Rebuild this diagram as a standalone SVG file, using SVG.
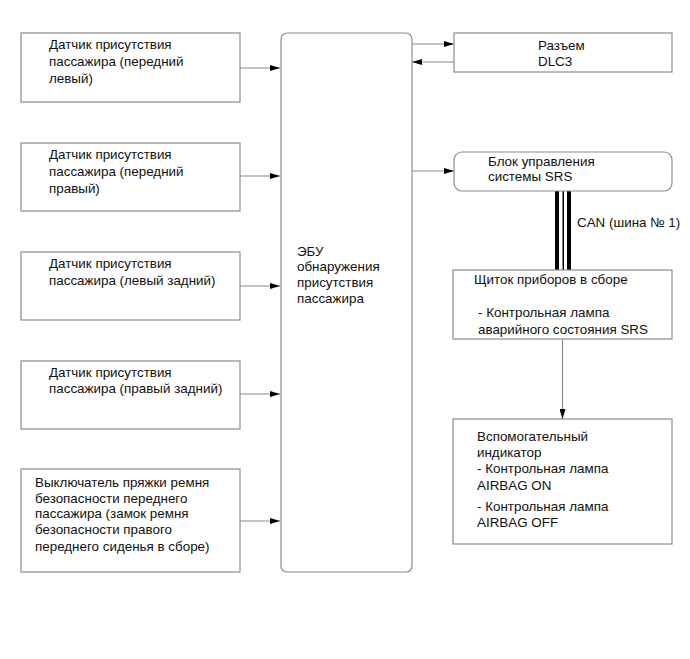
<svg xmlns="http://www.w3.org/2000/svg" width="690" height="659" viewBox="0 0 690 659">
<style>
.box{fill:#fff;stroke:#8c8c8c;stroke-width:1.2}
.ln{stroke:#8c8c8c;stroke-width:1.2;fill:none}
text{font-family:"Liberation Sans",Arial,sans-serif;font-size:13.4px;fill:#111}
</style>
<defs>
<marker id="ah" viewBox="0 0 10 6" refX="10" refY="3" markerWidth="10" markerHeight="6" markerUnits="userSpaceOnUse" orient="auto">
<path d="M0,0 L10,3 L0,6 Z" fill="#000"/>
</marker>
</defs>
<rect width="690" height="659" fill="#fff"/>
<g id="connectors">
<line class="ln" x1="240" y1="68" x2="280" y2="68" marker-end="url(#ah)"/>
<line class="ln" x1="240" y1="176" x2="280" y2="176" marker-end="url(#ah)"/>
<line class="ln" x1="240" y1="286" x2="280" y2="286" marker-end="url(#ah)"/>
<line class="ln" x1="240" y1="394" x2="280" y2="394" marker-end="url(#ah)"/>
<line class="ln" x1="240" y1="521" x2="280" y2="521" marker-end="url(#ah)"/>
<line class="ln" x1="412" y1="44" x2="454" y2="44" marker-end="url(#ah)"/>
<line class="ln" x1="454" y1="62" x2="412" y2="62" marker-end="url(#ah)"/>
<line class="ln" x1="412" y1="171" x2="454" y2="171" marker-end="url(#ah)"/>
<rect x="555" y="191" width="4" height="79" fill="#000"/>
<rect x="562.5" y="191" width="1.5" height="79" fill="#000"/>
<rect x="567" y="191" width="4" height="79" fill="#000"/>
<line class="ln" x1="562.5" y1="339" x2="562.5" y2="419" marker-end="url(#ah)"/>
<text x="577" y="227">CAN (шина № 1)</text>
</g>
<g id="sensor1">
<rect class="box" x="21" y="33" width="219" height="69"/>
<text x="49" y="49">Датчик присутствия</text>
<text x="49" y="66">пассажира (передний</text>
<text x="49" y="83">левый)</text>
</g>
<g id="sensor2">
<rect class="box" x="21" y="143" width="219" height="68"/>
<text x="49" y="159">Датчик присутствия</text>
<text x="49" y="176">пассажира (передний</text>
<text x="49" y="193">правый)</text>
</g>
<g id="sensor3">
<rect class="box" x="21" y="252" width="219" height="68"/>
<text x="49" y="268">Датчик присутствия</text>
<text x="49" y="285">пассажира (левый задний)</text>
</g>
<g id="sensor4">
<rect class="box" x="21" y="361" width="219" height="68"/>
<text x="49" y="377">Датчик присутствия</text>
<text x="49" y="393">пассажира (правый задний)</text>
</g>
<g id="buckle">
<rect class="box" x="21" y="469" width="219" height="103"/>
<text x="35" y="487">Выключатель пряжки ремня</text>
<text x="35" y="503">безопасности переднего</text>
<text x="35" y="518">пассажира (замок ремня</text>
<text x="35" y="534">безопасности правого</text>
<text x="35" y="551">переднего сиденья в сборе)</text>
</g>
<g id="ecu">
<rect class="box" x="281" y="33" width="131" height="539" rx="6"/>
<text x="297" y="256">ЭБУ</text>
<text x="297" y="271">обнаружения</text>
<text x="297" y="287">присутствия</text>
<text x="297" y="303">пассажира</text>
</g>
<g id="dlc3">
<rect class="box" x="454" y="33" width="218" height="39"/>
<text x="538" y="50">Разъем</text>
<text x="538" y="66">DLC3</text>
</g>
<g id="srs">
<rect class="box" x="454" y="152" width="218" height="39" rx="8"/>
<text x="488" y="166">Блок управления</text>
<text x="488" y="181">системы SRS</text>
</g>
<g id="combimeter">
<rect class="box" x="453" y="270" width="219" height="69"/>
<text x="474" y="284">Щиток приборов в сборе</text>
<text x="478" y="317">- Контрольная лампа</text>
<text x="478" y="334">аварийного состояния SRS</text>
</g>
<g id="aux">
<rect class="box" x="453" y="419" width="219" height="125"/>
<text x="477" y="441">Вспомогательный</text>
<text x="477" y="457">индикатор</text>
<text x="477" y="473">- Контрольная лампа</text>
<text x="477" y="490">AIRBAG ON</text>
<text x="477" y="511">- Контрольная лампа</text>
<text x="477" y="527">AIRBAG OFF</text>
</g>
</svg>
